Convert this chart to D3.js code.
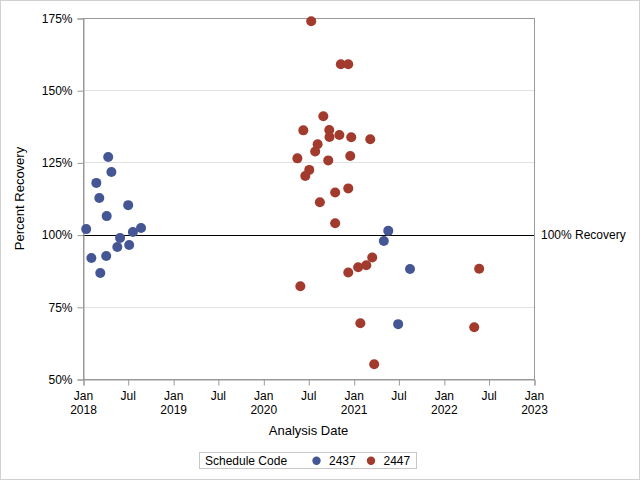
<!DOCTYPE html>
<html>
<head>
<meta charset="utf-8">
<script src="https://cdn.jsdelivr.net/npm/d3@7"></script>
<style>
  html, body { margin: 0; padding: 0; background: #fff; }
  svg { display: block; }
  text { font-family: "Liberation Sans", Arial, sans-serif; fill: #000; }
</style>
</head>
<body>
<script>
// ---- Data ----
const seriesNames = ["2437", "2447"];
const dates2437 = ["2018-01-14","2018-02-04","2018-02-24","2018-03-08","2018-03-12","2018-04-05","2018-04-07","2018-04-13","2018-04-26","2018-05-20","2018-05-31","2018-07-03","2018-07-07","2018-07-22","2018-08-24","2021-05-03","2021-05-21","2021-06-30","2021-08-17"];
const values2437 = [101.9, 91.9, 117.9, 112.7, 86.7, 92.6, 106.4, 126.9, 121.7, 95.7, 98.8, 110.2, 96.4, 100.9, 102.3, 97.8, 101.3, 69.0, 88.1];
const dates2447 = ["2020-07-13","2020-11-10","2020-12-10","2020-08-31","2020-06-11","2020-09-24","2020-09-25","2020-11-04","2020-12-22","2021-03-09","2020-08-08","2020-07-29","2020-05-18","2020-09-20","2020-12-18","2020-07-05","2020-06-19","2020-10-18","2020-12-10","2020-08-17","2020-10-18","2021-03-17","2021-02-21","2021-01-19","2020-12-10","2020-05-30","2021-01-28","2021-03-25","2022-05-24","2022-05-04"];
const values2447 = [173.9, 159.0, 159.0, 141.0, 136.1, 136.2, 133.8, 134.5, 133.7, 133.0, 131.3, 128.8, 126.4, 125.7, 127.2, 122.4, 120.3, 114.6, 116.0, 111.2, 103.9, 92.1, 89.4, 88.7, 86.9, 82.1, 69.3, 55.1, 88.2, 67.9];
const yTicks = [50, 75, 100, 125, 150, 175];
const refValue = 100;
const refLabel = "100% Recovery";
const xTitle = "Analysis Date";
const yTitle = "Percent Recovery";
const legendTitle = "Schedule Code";
const colors = ["#445694", "#A23A2E"];

// ---- Chart ----
const W = 640, H = 480;
const L = 83, R = 534, T = 18, B = 379;
const parse = d3.timeParse("%Y-%m-%d");

const svg = d3.select("body").append("svg").attr("width", W).attr("height", H);

svg.append("rect").attr("x", 0.5).attr("y", 0.5).attr("width", W - 1).attr("height", H - 1)
  .attr("fill", "#fff").attr("stroke", "#d0d0d0");

const x = d3.scaleTime().domain([new Date(2018, 0, 1), new Date(2023, 0, 1)]).range([L, R]);
const y = d3.scaleLinear().domain([50, 175]).range([B, T]);

// gridlines
svg.append("g").selectAll("line").data(yTicks.filter(v => v !== 50 && v !== 175)).join("line")
  .attr("x1", L).attr("x2", R).attr("y1", d => Math.round(y(d)) + 0.5).attr("y2", d => Math.round(y(d)) + 0.5)
  .attr("stroke", "#e2e2e2").attr("stroke-width", 1);

// frame
svg.append("rect").attr("x", L + 0.5).attr("y", T + 0.5).attr("width", R - L).attr("height", B - T)
  .attr("fill", "none").attr("stroke", "#999").attr("stroke-width", 1);

// reference line
svg.append("line").attr("x1", L).attr("x2", R)
  .attr("y1", Math.round(y(refValue)) + 0.5).attr("y2", Math.round(y(refValue)) + 0.5)
  .attr("stroke", "#000").attr("stroke-width", 1);
svg.append("text").attr("x", 541).attr("y", y(refValue) + 4.5).attr("font-size", 12).text(refLabel);

// y axis
const yAxis = d3.axisLeft(y).tickValues(yTicks).tickFormat(d => d + "%").tickSize(6).tickPadding(5);
const gy = svg.append("g").attr("transform", `translate(${L + 0.5},0.5)`).call(yAxis);
gy.select(".domain").attr("stroke", "#999");
gy.selectAll(".tick line").attr("stroke", "#999");
gy.selectAll(".tick text").attr("font-size", 12).attr("font-family", "Liberation Sans, Arial, sans-serif").attr("fill", "#000");

// x axis
const xTickDates = d3.timeMonth.every(6).range(new Date(2018, 0, 1), new Date(2023, 0, 2));
const xAxis = d3.axisBottom(x).tickValues(xTickDates).tickFormat("").tickSize(6);
const gx = svg.append("g").attr("transform", `translate(0.5,${B + 0.5})`).call(xAxis);
gx.select(".domain").attr("stroke", "#999");
gx.selectAll(".tick line").attr("stroke", "#999");
const fmtM = d3.timeFormat("%b"), fmtY = d3.timeFormat("%Y");
const xl = svg.append("g");
xTickDates.forEach(d => {
  xl.append("text").attr("x", x(d) + 0.5).attr("y", 399.5).attr("text-anchor", "middle").attr("font-size", 12).text(fmtM(d));
  if (d.getMonth() === 0) {
    xl.append("text").attr("x", x(d) + 0.5).attr("y", 413.5).attr("text-anchor", "middle").attr("font-size", 12).text(fmtY(d));
  }
});

// titles
svg.append("text").attr("x", (L + R) / 2).attr("y", 435).attr("text-anchor", "middle").attr("font-size", 13).text(xTitle);
svg.append("text").attr("transform", `translate(24,${(T + B) / 2}) rotate(-90)`).attr("text-anchor", "middle").attr("font-size", 13).text(yTitle);

// points
const series = [
  dates2437.map((d, i) => ({ date: parse(d), value: values2437[i] })),
  dates2447.map((d, i) => ({ date: parse(d), value: values2447[i] }))
];
series.forEach((s, k) => {
  svg.append("g").selectAll("circle").data(s).join("circle")
    .attr("cx", d => x(d.date)).attr("cy", d => y(d.value)).attr("r", 5)
    .attr("fill", colors[k]);
});

// legend
const lg = svg.append("g");
lg.append("rect").attr("x", 199.5).attr("y", 452.5).attr("width", 217).attr("height", 16)
  .attr("fill", "#fff").attr("stroke", "#c8c8c8");
lg.append("text").attr("x", 205).attr("y", 465).attr("font-size", 12).text(legendTitle);
const lx = [316.5, 371];
seriesNames.forEach((n, k) => {
  lg.append("circle").attr("cx", lx[k]).attr("cy", 460.7).attr("r", 4.2).attr("fill", colors[k]);
  lg.append("text").attr("x", lx[k] + 12.5).attr("y", 465).attr("font-size", 12).text(n);
});
</script>
</body>
</html>
